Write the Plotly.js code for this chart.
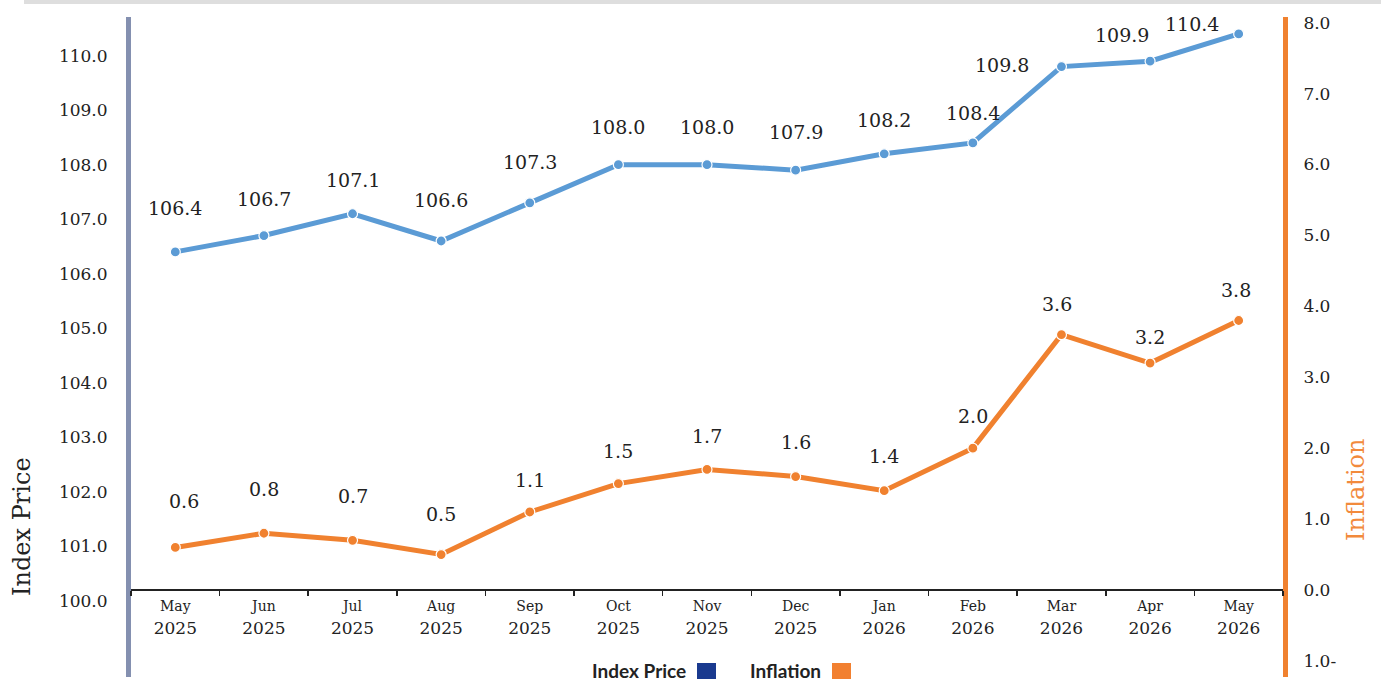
<!DOCTYPE html>
<html>
<head>
<meta charset="utf-8">
<script src="https://cdn.plot.ly/plotly-3.0.1.min.js"></script>
<style>
html,body{margin:0;padding:0;background:#fff;}
#chart{width:1381px;height:682px;}
</style>
</head>
<body>
<div id="chart"></div>
<script>
// ---- data ----
const months = ["May","Jun","Jul","Aug","Sep","Oct","Nov","Dec","Jan","Feb","Mar","Apr","May"];
const years  = ["2025","2025","2025","2025","2025","2025","2025","2025","2026","2026","2026","2026","2026"];
const indexPrice = [106.4,106.7,107.1,106.6,107.3,108.0,108.0,107.9,108.2,108.4,109.8,109.9,110.4];
const inflation  = [0.6,0.8,0.7,0.5,1.1,1.5,1.7,1.6,1.4,2.0,3.6,3.2,3.8];
const leftTicks  = [100,101,102,103,104,105,106,107,108,109,110];
const rightTicks = [-1,0,1,2,3,4,5,6,7,8];
const rightTickText = ["1.0-","0.0","1.0","2.0","3.0","4.0","5.0","6.0","7.0","8.0"];

// ---- styling ----
const blue = "#5b9bd5", orange = "#f0812f";
const serif = "DejaVu Serif, serif";
const blueShiftY = [44,37,34,41,41,38,38,38,34,30,2,26,10];
const blueShiftX = [0,0,0,0,0,0,0,0,0,0,-59,-28,-47];
const orShiftY = [46,44,44,41,32,33,33,35,35,32,31,26,31];
const orShiftX = [9,0,0,0,0,0,0,0,0,0,-4,0,-3];

const cats = months.map((m,i)=>m+" "+years[i]);
const tickText = months.map((m,i)=>"<span style='font-size:14px'>"+m+"</span><br>"+years[i]);

const W=1381, H=682, L=131, R=98, T=17, B=5;
const pw=W-L-R, ph=H-T-B;
const px = x => (x-L)/pw;
const py = y => (H-B-y)/ph;

const traces = [
  {x:cats, y:indexPrice, type:"scatter", mode:"lines+markers", name:"Index Price",
   line:{color:blue,width:5}, marker:{size:10,color:blue,line:{color:"#fff",width:1.2}},
   cliponaxis:false, hoverinfo:"x+y"},
  {x:cats, y:inflation, type:"scatter", mode:"lines+markers", name:"Inflation", yaxis:"y2",
   line:{color:orange,width:5}, marker:{size:10,color:orange,line:{color:"#fff",width:1.2}},
   cliponaxis:false, hoverinfo:"x+y"}
];

const annotations = [];
indexPrice.forEach((v,i)=>annotations.push({x:cats[i], y:v, xref:"x", yref:"y", text:v.toFixed(1),
  showarrow:false, yshift:blueShiftY[i], xshift:blueShiftX[i], font:{family:serif,size:19,color:"#222"}}));
inflation.forEach((v,i)=>annotations.push({x:cats[i], y:v, xref:"x", yref:"y2", text:v.toFixed(1),
  showarrow:false, yshift:orShiftY[i], xshift:orShiftX[i], font:{family:serif,size:19,color:"#222"}}));
annotations.push({xref:"paper", yref:"paper", x:px(22), y:py(527), xanchor:"center", yanchor:"middle",
  text:"Index Price", textangle:-90, showarrow:false, font:{family:serif,size:24,color:"#222"}});
annotations.push({xref:"paper", yref:"paper", x:px(1356), y:py(490), xanchor:"center", yanchor:"middle",
  text:"Inflation", textangle:-90, showarrow:false, font:{family:serif,size:24,color:"#f28a3c"}});
annotations.push({xref:"paper", yref:"paper", x:px(688), y:py(670), xanchor:"right", yanchor:"middle",
  text:"Index Price", showarrow:false, font:{family:"Lato, sans-serif",size:19,color:"#222",weight:700}});
annotations.push({xref:"paper", yref:"paper", x:px(823), y:py(670), xanchor:"right", yanchor:"middle",
  text:"Inflation", showarrow:false, font:{family:"Lato, sans-serif",size:19,color:"#222",weight:700}});

const shapes = [
  {type:"rect", xref:"paper", yref:"paper", x0:px(24), x1:px(1381), y0:py(4), y1:py(0),
   fillcolor:"#dedede", line:{width:0}, layer:"below"},
  {type:"rect", xref:"paper", yref:"paper", x0:px(697), x1:px(716), y0:py(679), y1:py(663),
   fillcolor:"#1a3a8f", line:{width:0}},
  {type:"rect", xref:"paper", yref:"paper", x0:px(832), x1:px(851), y0:py(679), y1:py(663),
   fillcolor:"#f28030", line:{width:0}}
];

const layout = {
  width:W, height:H,
  margin:{l:L, r:R, t:T, b:B, pad:0},
  paper_bgcolor:"#fff", plot_bgcolor:"#fff",
  showlegend:false,
  xaxis:{type:"category", anchor:"free", position:py(590), tickvals:cats, ticktext:tickText,
    showline:true, linecolor:"#222", linewidth:2, showgrid:false, zeroline:false,
    ticks:"outside", tickson:"boundaries", ticklen:5, tickwidth:1.5, tickcolor:"#222",
    tickfont:{family:serif,size:17,color:"#222"}, range:[-0.5,12.5]},
  yaxis:{range:[98.60,110.71], tickvals:leftTicks, ticktext:leftTicks.map(v=>v.toFixed(1)),
    showline:true, linecolor:"#8490b0", linewidth:5, showgrid:false, zeroline:false,
    ticks:"", ticklabelstandoff:15, tickfont:{family:serif,size:17,color:"#222"}},
  yaxis2:{overlaying:"y", side:"right", range:[-1.227,8.08], tickvals:rightTicks, ticktext:rightTickText,
    showline:true, linecolor:"#f0812f", linewidth:5, showgrid:false, zeroline:false,
    ticks:"", ticklabelstandoff:12, tickfont:{family:serif,size:17,color:"#222"}},
  annotations:annotations, shapes:shapes,
  font:{family:serif}
};

Plotly.newPlot("chart", traces, layout, {displayModeBar:false, staticPlot:true});
</script>
</body>
</html>
